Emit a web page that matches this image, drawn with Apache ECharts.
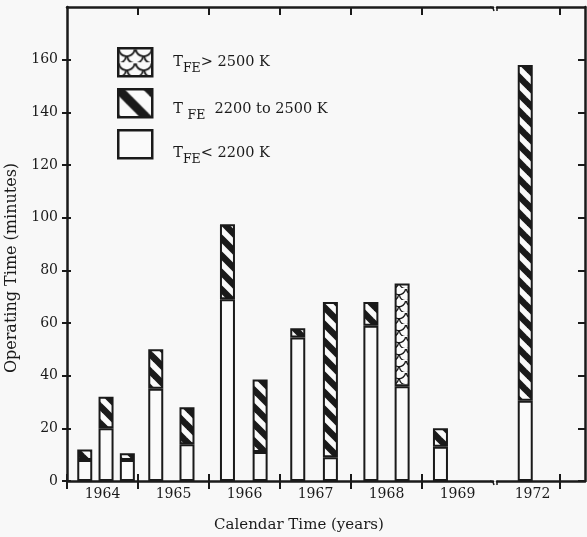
<!DOCTYPE html>
<html><head><meta charset="utf-8">
<script src="https://cdn.jsdelivr.net/npm/echarts@6/dist/echarts.min.js"></script>
<style>html,body{margin:0;padding:0;background:#f8f8f8}#c{width:587px;height:537px}</style>
</head><body><div id="c"></div>
<script>
// ---- data ----
const barYears = [1964.25, 1964.55, 1964.85, 1965.25, 1965.69, 1966.26, 1966.72, 1967.25, 1967.71, 1968.28, 1968.72, 1969.26, 1972.51];
const below2200 = [8, 20, 8, 35, 14, 69, 11, 54.5, 9, 59, 36, 13, 30.5];
const from2200to2500 = [4, 12, 2.5, 15, 14, 28.5, 27.5, 3.5, 59, 9, null, 7, 127.5];
const above2500 = [null, null, null, null, null, null, null, null, null, null, 39, null, null];
const yearsBeforeBreak = [1964, 1965, 1966, 1967, 1968, 1969];
const yearsAfterBreak = [1972];
const yTickValues = [0, 20, 40, 60, 80, 100, 120, 140, 160, 180];
const seriesNames = ['TFE < 2200 K', 'TFE 2200 to 2500 K', 'TFE > 2500 K'];

const INK = '#1a1a1a';
const PAPER = '#fafafa';
const FONT = 'DejaVu Serif';

function hatchPattern(size, lw, shift) {
  const c = document.createElement('canvas');
  c.width = size; c.height = size;
  const g = c.getContext('2d');
  g.fillStyle = PAPER; g.fillRect(0, 0, size, size);
  g.strokeStyle = INK; g.lineWidth = lw; g.lineCap = 'square';
  for (const o of [-2 * size, -size, 0, size]) {
    g.beginPath(); g.moveTo(o + shift, 0); g.lineTo(o + shift + size, size); g.stroke();
  }
  return { image: c, repeat: 'repeat' };
}
function scalePattern(w, h, lw) {
  const c = document.createElement('canvas');
  c.width = w; c.height = h;
  const g = c.getContext('2d');
  g.fillStyle = PAPER; g.fillRect(0, 0, w, h);
  g.strokeStyle = INK; g.lineWidth = lw;
  const r = w / 2;
  [[w / 2, 0], [0, h / 2], [w, h / 2], [w / 2, h]].forEach(([cx, cy]) => {
    g.beginPath(); g.arc(cx, cy, r * 0.95, 0.15, Math.PI - 0.15); g.stroke();
  });
  return { image: c, repeat: 'repeat' };
}

const fills = [PAPER, hatchPattern(17, 6.5, 0), scalePattern(14, 12, 1.4)];
const legendFills = {
  'TFE < 2200 K': PAPER,
  'TFE 2200 to 2500 K': hatchPattern(31, 9, 0),
  'TFE > 2500 K': scalePattern(17, 14, 1.8)
};
const valueSets = [below2200, from2200to2500, above2500];

// rows are [minutes, year]; encode maps them to y and x so the minutes column is the stacked one
function rowsFor(vals, afterBreak) {
  const out = [];
  barYears.forEach((x, i) => {
    if ((x >= 1972) === afterBreak) out.push([vals[i] == null ? '-' : vals[i], x]);
  });
  return out;
}

const series = [];
[false, true].forEach((after, gi) => {
  valueSets.forEach((vals, k) => {
    series.push({
      type: 'bar', name: seriesNames[k], stack: 'g' + gi,
      xAxisIndex: gi === 0 ? 0 : 3, yAxisIndex: gi === 0 ? 0 : 2,
      barWidth: 15,
      encode: { x: 1, y: 0 },
      data: rowsFor(vals, after),
      itemStyle: { color: fills[k], borderColor: INK, borderWidth: 2 },
      emphasis: { disabled: true },
      animation: false
    });
  });
});

const axisLine = { show: true, lineStyle: { color: INK, width: 2.5 } };
const tickStyle = { color: INK, width: 2 };
const labelStyle = { fontFamily: FONT, fontSize: 14, color: INK };

const xAxes = [
  { gridIndex: 0, type: 'value', position: 'bottom', min: 1964, max: 1970,
    axisLine, splitLine: { show: false },
    axisTick: { show: true, inside: false, length: 8, lineStyle: tickStyle, customValues: yearsBeforeBreak },
    axisLabel: { ...labelStyle, margin: 6, customValues: yearsBeforeBreak.map(y => y + 0.5), formatter: v => String(Math.floor(v)) } },
  { gridIndex: 0, type: 'value', position: 'bottom', min: 1964, max: 1970,
    axisLine: { show: false }, splitLine: { show: false }, axisLabel: { show: false },
    axisTick: { show: true, inside: true, length: 7, lineStyle: tickStyle, customValues: yearsBeforeBreak } },
  { gridIndex: 0, type: 'value', position: 'top', min: 1964, max: 1970,
    axisLine, splitLine: { show: false }, axisLabel: { show: false },
    axisTick: { show: true, inside: true, length: 8, lineStyle: tickStyle, customValues: yearsBeforeBreak.slice(1) } },
  { gridIndex: 1, type: 'value', position: 'bottom', min: 1972.113, max: 1973.35,
    axisLine, splitLine: { show: false },
    axisTick: { show: true, inside: false, length: 8, lineStyle: tickStyle, customValues: yearsAfterBreak.map(y => y + 1) },
    axisLabel: { ...labelStyle, margin: 6, padding: [0, 0, 0, 16], customValues: yearsAfterBreak.map(y => y + 0.5), formatter: v => String(Math.floor(v)) } },
  { gridIndex: 1, type: 'value', position: 'bottom', min: 1972.113, max: 1973.35,
    axisLine: { show: false }, splitLine: { show: false }, axisLabel: { show: false },
    axisTick: { show: true, inside: true, length: 7, lineStyle: tickStyle, customValues: yearsAfterBreak.map(y => y + 1) } },
  { gridIndex: 1, type: 'value', position: 'top', min: 1972.113, max: 1973.35,
    axisLine, splitLine: { show: false }, axisLabel: { show: false },
    axisTick: { show: true, inside: true, length: 8, lineStyle: tickStyle, customValues: yearsAfterBreak.map(y => y + 1) } }
];

const yAxes = [
  { gridIndex: 0, type: 'value', position: 'left', min: 0, max: 180, interval: 20,
    axisLine, splitLine: { show: false },
    axisTick: { show: true, inside: false, length: 5, lineStyle: tickStyle, customValues: yTickValues.slice(0, 9) },
    axisLabel: { ...labelStyle, margin: 9, customValues: yTickValues.slice(0, 9) } },
  { gridIndex: 0, type: 'value', position: 'left', min: 0, max: 180, interval: 20,
    axisLine: { show: false }, splitLine: { show: false }, axisLabel: { show: false },
    axisTick: { show: true, inside: true, length: 4, lineStyle: tickStyle, customValues: yTickValues.slice(0, 9) } },
  { gridIndex: 1, type: 'value', position: 'right', min: 0, max: 180, interval: 20,
    axisLine, splitLine: { show: false }, axisLabel: { show: false },
    axisTick: { show: true, inside: true, length: 7, lineStyle: tickStyle, customValues: yTickValues.slice(0, 9) } }
];

const legendText = {
  'TFE > 2500 K': '{t|T}{s|FE}{t|> 2500 K}',
  'TFE 2200 to 2500 K': '{t|T }{s|FE}{t|  2200 to 2500 K}',
  'TFE < 2200 K': '{t|T}{s|FE}{t|< 2200 K}'
};
// one legend block per entry so each caption can sit where it does in the reference
const legendRows = [
  { name: 'TFE > 2500 K', top: 47, pad: 0 },
  { name: 'TFE 2200 to 2500 K', top: 88, pad: 12 },
  { name: 'TFE < 2200 K', top: 129, pad: 18 }
];
const legends = legendRows.map(r => ({
  orient: 'vertical', left: 117, top: r.top, padding: 0,
  itemWidth: 34, itemHeight: 28, icon: 'rect',
  data: [r.name],
  itemStyle: { color: legendFills[r.name], borderColor: INK, borderWidth: 2.5 },
  selectedMode: false,
  formatter: n => legendText[n],
  textStyle: {
    padding: [r.pad, 0, 0, 16],
    rich: {
      t: { fontFamily: FONT, fontSize: 14.5, color: INK, lineHeight: 26, verticalAlign: 'middle' },
      s: { fontFamily: FONT, fontSize: 12.5, color: INK, lineHeight: 12, verticalAlign: 'bottom' }
    }
  }
}));

const option = {
  backgroundColor: '#f8f8f8',
  animation: false,
  grid: [
    { left: 67, top: 7, width: 426, height: 474, outerBoundsMode: 'none', containLabel: false },
    { left: 497, top: 7, width: 88, height: 474, outerBoundsMode: 'none', containLabel: false }
  ],
  xAxis: xAxes,
  yAxis: yAxes,
  legend: legends,
  graphic: [
    { type: 'text', x: 299, y: 525, style: { text: 'Calendar Time (years)', align: 'center', verticalAlign: 'middle', font: '15px "DejaVu Serif"', fill: INK } },
    { type: 'text', x: 12, y: 268, rotation: Math.PI / 2, style: { text: 'Operating Time (minutes)', align: 'center', verticalAlign: 'middle', font: '16px "DejaVu Serif"', fill: INK } },
    { type: 'polyline', shape: { points: [[490, 481], [493, 482], [494, 485]] }, style: { stroke: INK, lineWidth: 1.5, fill: null } },
    { type: 'polyline', shape: { points: [[498, 481], [497, 482], [497, 485]] }, style: { stroke: INK, lineWidth: 1.5, fill: null } },
    { type: 'polyline', shape: { points: [[490, 7], [493, 8], [494, 11]] }, style: { stroke: INK, lineWidth: 1.5, fill: null } },
    { type: 'polyline', shape: { points: [[498, 7], [497, 8], [497, 11]] }, style: { stroke: INK, lineWidth: 1.5, fill: null } }
  ],
  series
};

const chart = echarts.init(document.getElementById('c'), null, { renderer: 'canvas' });
chart.setOption(option);
</script>
</body></html>
